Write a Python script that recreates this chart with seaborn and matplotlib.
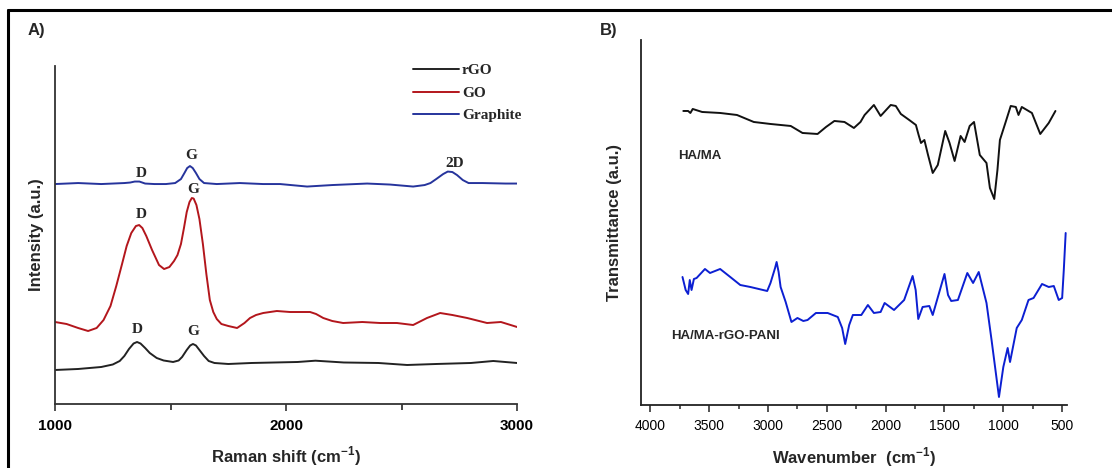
import matplotlib
matplotlib.use("Agg")
import matplotlib.pyplot as plt
from matplotlib.lines import Line2D
from matplotlib.ticker import MultipleLocator
import pandas as pd
import seaborn as sns

# ---- Panel A: Raman spectra (arbitrary intensity units) ----
RGO_X = [1000, 1100, 1200, 1250, 1280, 1300, 1320, 1340, 1355, 1370, 1390, 1410,
         1440, 1470, 1511, 1535, 1550, 1570, 1585, 1597, 1610, 1625, 1645, 1665,
         1690, 1750, 1850, 1950, 2050, 2127, 2250, 2400, 2524, 2650, 2800, 2897, 3000]
RGO_Y = [34, 35, 37, 39.5, 43, 48, 55, 60.5, 62, 60.5, 56, 51,
         46, 43.5, 42, 43.5, 47, 54, 58.5, 60, 58.5, 54, 48, 43,
         41, 40, 41, 41.5, 42, 43.3, 41.5, 41, 39, 40, 41, 43, 41]

GO_X = [1000, 1050, 1100, 1143, 1180, 1210, 1240, 1265, 1290, 1310, 1330, 1350,
        1364, 1378, 1395, 1420, 1450, 1472, 1495, 1515, 1530, 1545, 1558, 1570,
        1582, 1592, 1600, 1612, 1625, 1640, 1655, 1670, 1685, 1700, 1720, 1750,
        1788, 1820, 1844, 1870, 1901, 1960, 2017, 2060, 2104, 2130, 2161, 2200,
        2247, 2330, 2407, 2480, 2550, 2610, 2667, 2720, 2784, 2870, 2930, 3000]
GO_Y = [82, 80, 76, 73, 76, 84, 98, 118, 140, 158, 171, 178,
        179, 176, 168, 154, 139, 135, 137, 143, 149, 160, 176, 192,
        202, 206, 205.5, 199, 185, 160, 130, 104, 92, 85, 80, 78,
        76, 81, 86, 89, 91, 93, 92, 92, 92, 90, 86, 83,
        81, 82, 81, 81, 79, 86, 91, 89, 86, 81, 82, 77]

GRAPHITE_X = [1000, 1100, 1200, 1300, 1325, 1345, 1365, 1390, 1430, 1480, 1520,
              1545, 1560, 1572, 1584, 1596, 1610, 1625, 1645, 1700, 1800, 1900,
              1974, 2091, 2200, 2351, 2450, 2550, 2600, 2625, 2650, 2680, 2700,
              2720, 2740, 2765, 2790, 2850, 2950, 3000]
GRAPHITE_Y = [220, 221, 220, 221, 221.5, 222.5, 222.5, 220.5, 220, 220, 221,
              225, 231, 236, 238, 236, 231, 225, 221, 220, 221, 220,
              220, 217.5, 219, 220.5, 219.5, 217.5, 219, 221, 225, 230, 232.5,
              232, 229, 224, 221, 221, 220.5, 220.5]

# peak labels: (text, x, y)
PEAK_LABELS = [("D", 1372, 231), ("G", 1589, 249), ("2D", 2728, 241),
               ("D", 1372, 190), ("G", 1598, 215),
               ("D", 1355, 75), ("G", 1597, 72)]

# ---- Panel B: FTIR spectra (arbitrary transmittance units) ----
HAMA_X = [3720, 3679, 3660, 3640, 3560, 3407, 3264, 3121, 2979, 2807, 2707, 2579,
          2507, 2436, 2350, 2270, 2214, 2179, 2100, 2043, 1957, 1914, 1871, 1800,
          1743, 1720, 1700, 1671, 1640, 1600, 1557, 1494, 1457, 1414, 1363, 1329,
          1286, 1249, 1200, 1143, 1114, 1077, 1050, 1029, 980, 937, 894, 871,
          843, 757, 686, 614, 557]
HAMA_Y = [294, 294, 292, 296, 293, 292, 290, 283, 281, 279, 272, 271,
          278, 284, 283, 277, 283, 290, 300, 289, 300, 299, 291, 285,
          280, 270, 262, 265, 250, 232, 240, 274, 262, 244, 269, 263,
          279, 283, 250, 242, 217, 206, 235, 265, 283, 299, 298, 290,
          298, 292, 271, 282, 294]

PANI_X = [3727, 3700, 3679, 3665, 3650, 3630, 3607, 3536, 3493, 3450, 3407, 3321,
          3236, 3150, 3007, 2979, 2940, 2927, 2910, 2893, 2850, 2801, 2750, 2700,
          2664, 2593, 2493, 2407, 2370, 2344, 2310, 2279, 2207, 2151, 2100, 2043,
          2009, 1929, 1843, 1771, 1745, 1723, 1686, 1629, 1600, 1500, 1470, 1443,
          1386, 1306, 1257, 1209, 1143, 1100, 1037, 1000, 963, 943, 886, 843,
          786, 743, 671, 614, 571, 529, 500, 486, 470]
PANI_Y = [128, 115, 111, 125, 115, 126, 127, 136, 132, 134, 136, 128,
          120, 118, 114, 122, 137, 143, 133, 118, 103, 83, 87, 84,
          85, 92, 92, 88, 77, 61, 80, 90, 90, 100, 92, 93,
          102, 95, 105, 129, 115, 86, 98, 99, 90, 131, 110, 104,
          105, 132, 122, 133, 102, 65, 8, 38, 57, 43, 77, 85,
          105, 107, 121, 118, 119, 105, 107, 135, 172]

raman = pd.concat([
    pd.DataFrame({"shift": RGO_X, "intensity": RGO_Y, "sample": "rGO"}),
    pd.DataFrame({"shift": GO_X, "intensity": GO_Y, "sample": "GO"}),
    pd.DataFrame({"shift": GRAPHITE_X, "intensity": GRAPHITE_Y, "sample": "Graphite"}),
])
ftir = pd.concat([
    pd.DataFrame({"wn": HAMA_X, "T": HAMA_Y, "sample": "HA/MA"}),
    pd.DataFrame({"wn": PANI_X, "T": PANI_Y, "sample": "HA/MA-rGO-PANI"}),
])

sns.set_style("white")
plt.rcParams["font.family"] = ["Liberation Sans", "DejaVu Sans"]

fig = plt.figure(figsize=(11.12, 4.68), dpi=100)
axA = fig.add_axes([0.0495, 0.1368, 0.4155, 0.722])
axB = fig.add_axes([0.5764, 0.1346, 0.383, 0.78])

serif_bold = {"family": ["Liberation Serif", "DejaVu Serif"], "weight": "bold"}

sns.lineplot(data=raman, x="shift", y="intensity", hue="sample",
             palette={"rGO": "#222222", "GO": "#b3161c", "Graphite": "#26349c"},
             linewidth=1.4, ax=axA)
axA.set_xlim(1000, 3000)
axA.set_ylim(0, 338)
axA.set_yticks([])
axA.xaxis.set_major_locator(MultipleLocator(1000))
axA.xaxis.set_minor_locator(MultipleLocator(500))
axA.tick_params(axis="x", which="major", direction="out", length=5, width=1.2,
                bottom=True, labelsize=11, pad=6)
axA.tick_params(axis="x", which="minor", direction="out", length=4, width=1.2, bottom=True)
for lab in axA.get_xticklabels():
    lab.set_fontweight("bold")
axA.set_xlabel("Raman shift (cm$^{\\mathregular{-1}}$)", fontsize=12, fontweight="bold", labelpad=8)
axA.set_ylabel("Intensity (a.u.)", fontsize=12, fontweight="bold", labelpad=8)
for txt, x, y in PEAK_LABELS:
    axA.text(x, y, txt, ha="center", va="center", fontsize=11, fontdict=serif_bold)
axA.legend(loc="upper left", bbox_to_anchor=(0.745, 1.048), frameon=False,
           handlelength=3.0, handletextpad=0.2, labelspacing=0.58,
           prop={"family": ["Liberation Serif"], "weight": "bold", "size": 11})

sns.lineplot(data=ftir, x="wn", y="T", hue="sample",
             palette={"HA/MA": "#111111", "HA/MA-rGO-PANI": "#0c1fd2"},
             linewidth=1.4, legend=False, ax=axB)
axB.set_xlim(4080, 460)
axB.set_ylim(0, 365)
axB.set_yticks([])
axB.xaxis.set_major_locator(MultipleLocator(500))
axB.xaxis.set_minor_locator(MultipleLocator(250))
axB.tick_params(axis="x", which="major", direction="out", length=5, width=1.1,
                bottom=True, labelsize=10, pad=5)
axB.tick_params(axis="x", which="minor", direction="out", length=3, width=1.1, bottom=True)
axB.set_xlabel("Wavenumber  (cm$^{\\mathregular{-1}}$)", fontsize=12, fontweight="bold", labelpad=9)
axB.set_ylabel("Transmittance (a.u.)", fontsize=12, fontweight="bold", labelpad=14)
axB.text(3763, 249, "HA/MA", ha="left", va="center", fontsize=9.5, fontweight="bold")
axB.text(3822, 69, "HA/MA-rGO-PANI", ha="left", va="center", fontsize=9.5, fontweight="bold")

for ax, col in ((axA, "#333333"), (axB, "#222222")):
    sns.despine(ax=ax)
    ax.spines["left"].set_color(col)
    ax.spines["bottom"].set_color(col)
    ax.spines["left"].set_linewidth(1.3)
    ax.spines["bottom"].set_linewidth(1.3)
    ax.tick_params(colors=col, labelcolor="black")

fig.text(28 / 1112, 1 - 30 / 468, "A)", fontsize=12, fontweight="bold", va="center")
fig.text(600 / 1112, 1 - 30 / 468, "B)", fontsize=12, fontweight="bold", va="center")

# outer frame (top and left edges)
fig.add_artist(Line2D([8 / 1112, 1.0], [1 - 10 / 468] * 2, color="black", linewidth=2.2))
fig.add_artist(Line2D([8 / 1112] * 2, [0, 1 - 10 / 468], color="black", linewidth=2.2))

fig.savefig("out.png", dpi=100, facecolor="white")
